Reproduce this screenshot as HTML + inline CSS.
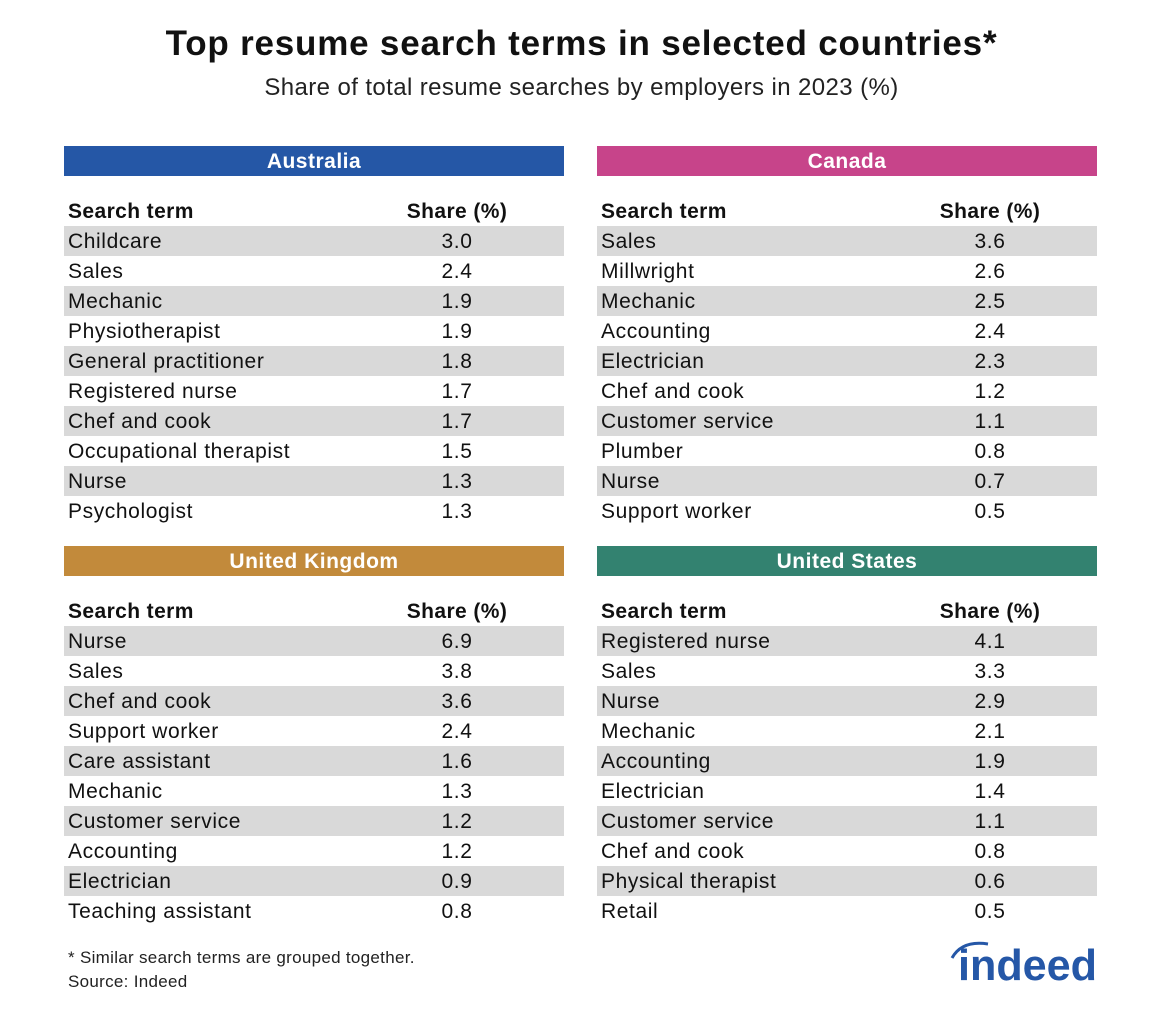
<!DOCTYPE html>
<html><head><meta charset="utf-8"><style>
body{margin:0;width:1163px;height:1016px;background:#fff;font-family:"Liberation Sans",sans-serif;color:#111;position:relative;overflow:hidden}
.t{position:absolute;left:0;width:1163px;text-align:center}
.tbl{position:absolute;width:500px}
.bar{height:30px;line-height:31px;color:#fff;font-weight:bold;font-size:21px;letter-spacing:0.5px;text-align:center}
.row{height:30px;line-height:31px;font-size:21px;letter-spacing:0.6px;position:relative}
.row span{position:absolute;left:4px}
.row b,.row i{position:absolute;left:333px;width:120px;text-align:center;font-style:normal}
.hd{margin-top:20px;font-weight:bold;letter-spacing:0.4px}
.g{background:#d9d9d9}
</style></head><body>
<div class="t" style="top:24px;font-size:35px;font-weight:bold;letter-spacing:0.8px">Top resume search terms in selected countries*</div>
<div class="t" style="top:74px;font-size:24px;letter-spacing:0.4px;color:#222">Share of total resume searches by employers in 2023 (%)</div>

<div class="tbl" style="left:64px;top:146px">
<div class="bar" style="background:#2557a6">Australia</div>
<div class="row hd"><span>Search term</span><b>Share (%)</b></div>
<div class="row g"><span>Childcare</span><i>3.0</i></div>
<div class="row"><span>Sales</span><i>2.4</i></div>
<div class="row g"><span>Mechanic</span><i>1.9</i></div>
<div class="row"><span>Physiotherapist</span><i>1.9</i></div>
<div class="row g"><span>General practitioner</span><i>1.8</i></div>
<div class="row"><span>Registered nurse</span><i>1.7</i></div>
<div class="row g"><span>Chef and cook</span><i>1.7</i></div>
<div class="row"><span>Occupational therapist</span><i>1.5</i></div>
<div class="row g"><span>Nurse</span><i>1.3</i></div>
<div class="row"><span>Psychologist</span><i>1.3</i></div>
</div>

<div class="tbl" style="left:597px;top:146px">
<div class="bar" style="background:#c7448a">Canada</div>
<div class="row hd"><span>Search term</span><b>Share (%)</b></div>
<div class="row g"><span>Sales</span><i>3.6</i></div>
<div class="row"><span>Millwright</span><i>2.6</i></div>
<div class="row g"><span>Mechanic</span><i>2.5</i></div>
<div class="row"><span>Accounting</span><i>2.4</i></div>
<div class="row g"><span>Electrician</span><i>2.3</i></div>
<div class="row"><span>Chef and cook</span><i>1.2</i></div>
<div class="row g"><span>Customer service</span><i>1.1</i></div>
<div class="row"><span>Plumber</span><i>0.8</i></div>
<div class="row g"><span>Nurse</span><i>0.7</i></div>
<div class="row"><span>Support worker</span><i>0.5</i></div>
</div>

<div class="tbl" style="left:64px;top:546px">
<div class="bar" style="background:#c28a3b">United Kingdom</div>
<div class="row hd"><span>Search term</span><b>Share (%)</b></div>
<div class="row g"><span>Nurse</span><i>6.9</i></div>
<div class="row"><span>Sales</span><i>3.8</i></div>
<div class="row g"><span>Chef and cook</span><i>3.6</i></div>
<div class="row"><span>Support worker</span><i>2.4</i></div>
<div class="row g"><span>Care assistant</span><i>1.6</i></div>
<div class="row"><span>Mechanic</span><i>1.3</i></div>
<div class="row g"><span>Customer service</span><i>1.2</i></div>
<div class="row"><span>Accounting</span><i>1.2</i></div>
<div class="row g"><span>Electrician</span><i>0.9</i></div>
<div class="row"><span>Teaching assistant</span><i>0.8</i></div>
</div>

<div class="tbl" style="left:597px;top:546px">
<div class="bar" style="background:#338270">United States</div>
<div class="row hd"><span>Search term</span><b>Share (%)</b></div>
<div class="row g"><span>Registered nurse</span><i>4.1</i></div>
<div class="row"><span>Sales</span><i>3.3</i></div>
<div class="row g"><span>Nurse</span><i>2.9</i></div>
<div class="row"><span>Mechanic</span><i>2.1</i></div>
<div class="row g"><span>Accounting</span><i>1.9</i></div>
<div class="row"><span>Electrician</span><i>1.4</i></div>
<div class="row g"><span>Customer service</span><i>1.1</i></div>
<div class="row"><span>Chef and cook</span><i>0.8</i></div>
<div class="row g"><span>Physical therapist</span><i>0.6</i></div>
<div class="row"><span>Retail</span><i>0.5</i></div>
</div>

<div style="position:absolute;left:68px;top:948px;font-size:17px;letter-spacing:0.3px;color:#222">* Similar search terms are grouped together.</div>
<div style="position:absolute;left:68px;top:972px;font-size:17px;letter-spacing:0.3px;color:#222">Source: Indeed</div>

<svg style="position:absolute;left:940px;top:936px" width="165" height="55">
<path d="M12 22 Q22 4 48 8" stroke="#2557a7" stroke-width="3" fill="none"/>
<text x="18" y="44" font-family="Liberation Sans,sans-serif" font-weight="bold" font-size="44" fill="#2557a7" textLength="139" lengthAdjust="spacingAndGlyphs">indeed</text>
</svg>
</body></html>
